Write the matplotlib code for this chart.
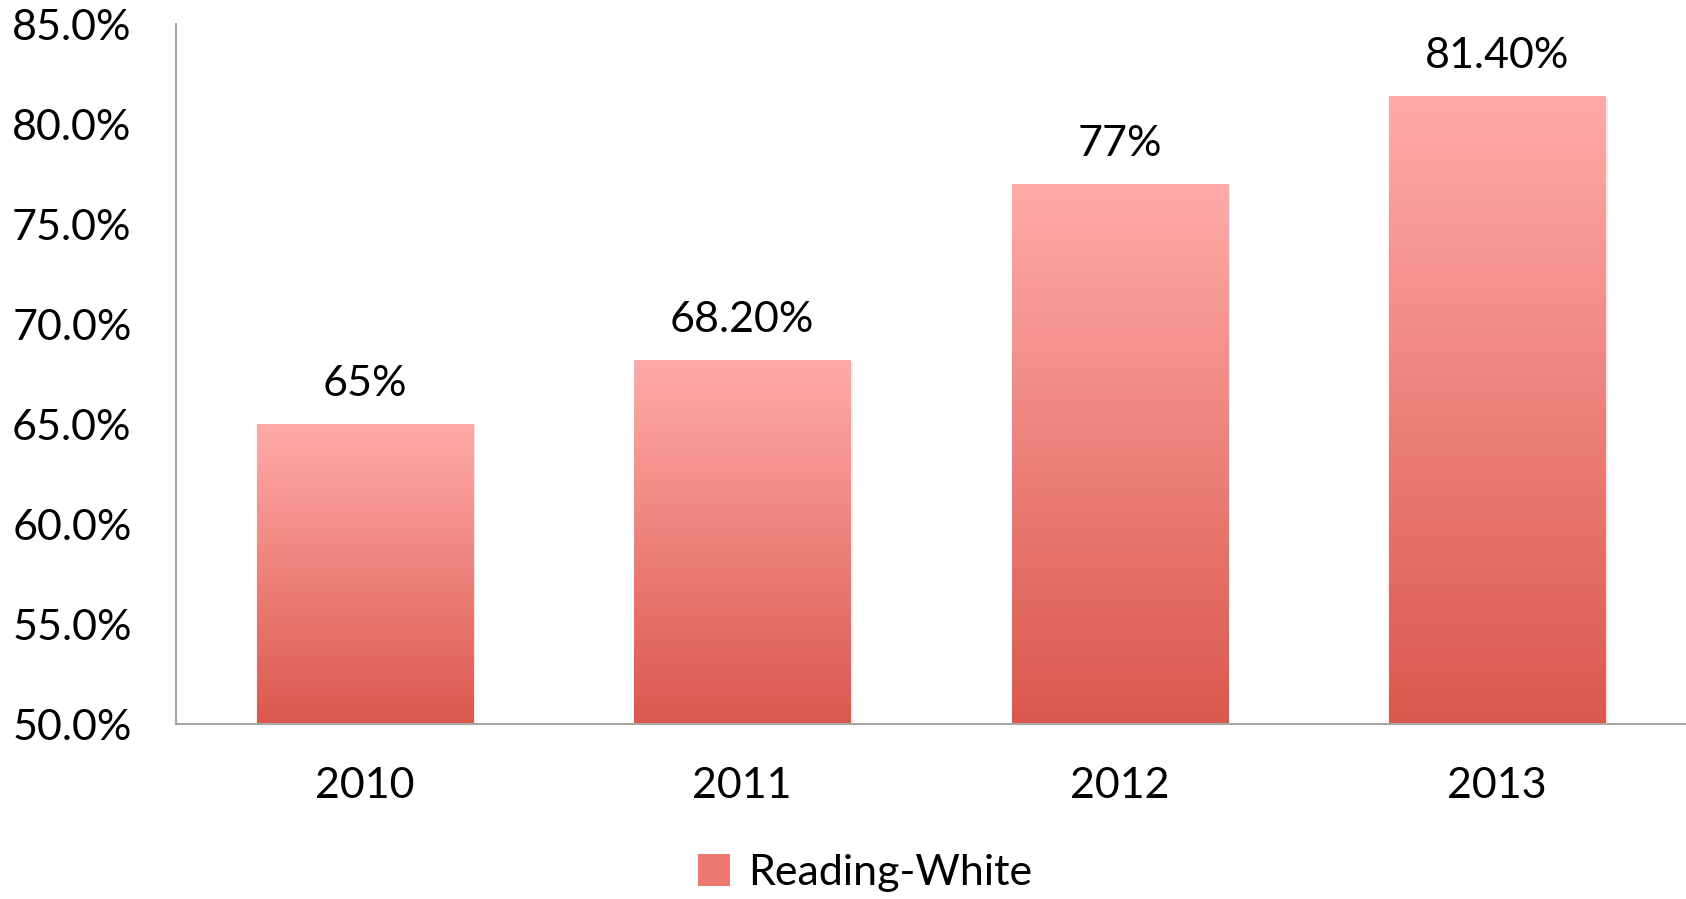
import numpy as np
import matplotlib.pyplot as plt
from matplotlib.colors import LinearSegmentedColormap
from matplotlib.patches import Patch
from matplotlib.ticker import FuncFormatter

years = ['2010', '2011', '2012', '2013']
values = [65.0, 68.2, 77.0, 81.4]
labels = ['65%', '68.20%', '77%', '81.40%']
series_name = 'Reading-White'

plt.rcParams['font.family'] = ['Lato', 'DejaVu Sans']

fig = plt.figure(figsize=(16.86, 8.99), dpi=100)
ax = fig.add_axes([176 / 1686, 1 - 724 / 899, 1510 / 1686, 700 / 899])

grad = LinearSegmentedColormap.from_list('g', ['#DB584D', '#FFABA9'])

x = np.arange(len(years))
bars = ax.bar(x, values, width=0.573, color='none', edgecolor='none')
ymin, ymax = 50, 85
img = np.linspace(0, 1, 256).reshape(-1, 1)
for b in bars:
    x0, w, h = b.get_x(), b.get_width(), b.get_height()
    # soft shadow
    ax.add_patch(plt.Rectangle((x0 + 0.006, ymin), w, h - ymin - 0.12,
                               color='#000000', alpha=0.08, lw=0, zorder=1))
    ax.imshow(img, extent=[x0, x0 + w, ymin, h], origin='lower',
              aspect='auto', cmap=grad, zorder=2)

for xi, v, lab in zip(x, values, labels):
    ax.annotate(lab, (xi, v), xytext=(0, 15), textcoords='offset points',
                ha='center', va='bottom', fontsize=31)

ax.set_xlim(-0.5, len(years) - 0.5)
ax.set_ylim(ymin, ymax)
ax.set_yticks(np.arange(50, 86, 5))
ax.yaxis.set_major_formatter(FuncFormatter(lambda v, p: f'{v:.1f}%'))
ax.set_xticks(x)
ax.set_xticklabels(years)
ax.tick_params(axis='both', length=0, labelsize=31)
ax.tick_params(axis='y', pad=32)
ax.tick_params(axis='x', pad=31)

for s in ['top', 'right']:
    ax.spines[s].set_visible(False)
for s in ['left', 'bottom']:
    ax.spines[s].set_color('#A6A6A6')
    ax.spines[s].set_linewidth(1.5)

handle = Patch(facecolor='#EC7A72', edgecolor='none')
fig.legend([handle], [series_name], loc='center', bbox_to_anchor=(865 / 1686, 1 - 873 / 899),
           frameon=False, fontsize=31, handlelength=0.75, handleheight=0.75,
           handletextpad=0.4)

fig.savefig('out.png', dpi=100)
